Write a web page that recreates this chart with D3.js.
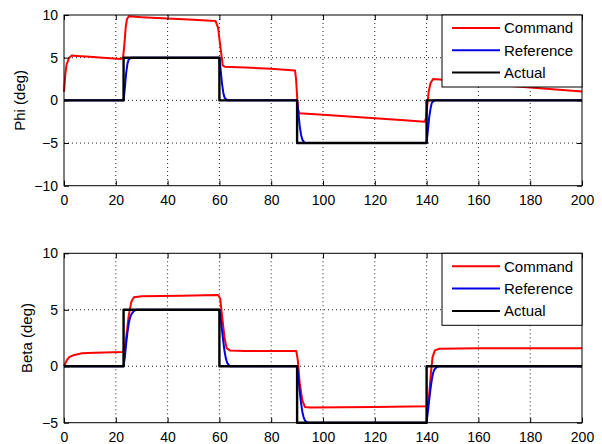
<!DOCTYPE html>
<html>
<head>
<meta charset="utf-8">
<script src="https://cdn.jsdelivr.net/npm/d3@7"></script>
<style>
  body { margin: 0; background: #fff; }
  text { font-family: "Liberation Sans", Arial, sans-serif; fill: #000; }
</style>
</head>
<body>
<script>
// series as [time, deg]
const phiCommand = [[0,1.0],[0.5,3.0],[1,4.2],[2,5.0],[3,5.25],[5,5.2],[10,5.1],[15,5.0],[22,4.85],[22.8,5.0],[23.3,6.5],[23.8,8.5],[24.3,9.5],[25,9.85],[30,9.75],[40,9.6],[50,9.45],[58.5,9.3],[59.5,8.5],[60.5,6.0],[61.3,4.1],[62,3.95],[70,3.85],[80,3.7],[89.2,3.5],[89.6,2.5],[90,0.5],[90.3,-1.0],[90.8,-1.5],[100,-1.7],[110,-1.9],[120,-2.1],[130,-2.3],[139.3,-2.5],[139.8,-2.0],[140.3,-0.5],[140.8,1.0],[141.5,2.0],[142.5,2.5],[145,2.45],[160,2.0],[180,1.5],[200,1.05]];
const phiReference = [[0,0],[23,0],[23.5,1.5],[24,3.2],[24.5,4.3],[25,4.8],[26,5.0],[60,5.0],[60.5,3.5],[61,2.0],[61.5,0.9],[62,0.3],[63,0],[90,0],[90.5,-1.5],[91,-3.0],[91.5,-4.0],[92,-4.6],[93,-5],[140,-5],[140.5,-3.5],[141,-2.0],[141.5,-1.0],[142,-0.3],[143,0],[200,0]];
const phiActual = [[0,0],[23,0],[23,5],[60,5],[60,0],[90,0],[90,-5],[140,-5],[140,0],[200,0]];

const betaCommand = [[0,0],[1,0.5],[2,0.8],[4,1.0],[7,1.15],[12,1.2],[22.5,1.25],[23.3,1.4],[24,2.5],[25,4.5],[26,5.7],[27,6.1],[30,6.2],[45,6.25],[59.5,6.3],[60.3,6.0],[61,4.5],[62,2.5],[62.8,1.6],[64,1.4],[70,1.35],[89.7,1.35],[90.3,0.5],[91,-1.5],[92,-3.0],[93,-3.6],[95,-3.65],[120,-3.6],[140.5,-3.55],[141,-2.5],[141.7,-0.5],[142.3,0.8],[143.2,1.4],[145,1.55],[160,1.6],[200,1.6]];
const betaReference = [[0,0],[23,0],[23.5,0.8],[24,2.0],[24.5,3.0],[25,3.8],[25.5,4.3],[26,4.6],[27,4.9],[28,5.0],[60,5],[60.5,4.2],[61,3.2],[61.5,2.2],[62,1.3],[62.5,0.7],[63,0.3],[64,0],[90,0],[90.5,-1.0],[91,-2.2],[91.5,-3.2],[92,-4.0],[92.5,-4.5],[93,-4.8],[94,-5],[140,-5],[140.5,-4],[141,-3],[141.5,-2],[142,-1.2],[142.5,-0.6],[143,-0.3],[144,-0.05],[145,0],[200,0]];
const betaActual = [[0,0],[23,0],[23,5],[60,5],[60,0],[90,0],[90,-5],[140,-5],[140,0],[200,0]];

const seriesNames = ['Command', 'Reference', 'Actual'];
const seriesColors = ['#ff0000', '#0000e6', '#000000'];
const xTicks = [0, 20, 40, 60, 80, 100, 120, 140, 160, 180, 200];
const phiTicks = [-10, -5, 0, 5, 10];
const betaTicks = [-5, 0, 5, 10];

const svg = d3.select('body').append('svg')
  .attr('width', 602)
  .attr('height', 444);

function drawPanel(cfg) {
  const x = d3.scaleLinear().domain([0, 200]).range([64, 582]);
  const y = d3.scaleLinear().domain(cfg.yDomain).range([cfg.bottom, cfg.top]);
  const g = svg.append('g');

  // dotted grid
  g.selectAll('.gx').data(xTicks.slice(1, -1)).enter().append('line')
    .attr('x1', d => x(d)).attr('x2', d => x(d))
    .attr('y1', cfg.top).attr('y2', cfg.bottom)
    .attr('stroke', '#222').attr('stroke-width', 1).attr('stroke-dasharray', '1,3');
  g.selectAll('.gy').data(cfg.ticks.slice(1, -1)).enter().append('line')
    .attr('x1', 64).attr('x2', 582)
    .attr('y1', d => y(d)).attr('y2', d => y(d))
    .attr('stroke', '#222').attr('stroke-width', 1).attr('stroke-dasharray', '1,3');

  const line = d3.line().x(d => x(d[0])).y(d => y(d[1]));
  cfg.series.forEach((s, i) => {
    g.append('path').datum(s)
      .attr('d', line)
      .attr('fill', 'none')
      .attr('stroke', seriesColors[i])
      .attr('stroke-width', i === 2 ? 2.4 : 2)
      .attr('stroke-linejoin', 'round');
  });

  // axes (ticks inward like matlab)
  const bottomAx = g.append('g').attr('transform', `translate(0,${cfg.bottom})`)
    .call(d3.axisBottom(x).tickValues(xTicks).tickSizeInner(-5).tickSizeOuter(0).tickPadding(9));
  g.append('g').attr('transform', `translate(0,${cfg.top})`)
    .call(d3.axisTop(x).tickValues(xTicks).tickSizeInner(-5).tickSizeOuter(0).tickFormat(''));
  const leftAx = g.append('g').attr('transform', 'translate(64,0)')
    .call(d3.axisLeft(y).tickValues(cfg.ticks).tickSizeInner(-5).tickSizeOuter(0).tickPadding(6));
  g.append('g').attr('transform', 'translate(582,0)')
    .call(d3.axisRight(y).tickValues(cfg.ticks).tickSizeInner(-5).tickSizeOuter(0).tickFormat(''));
  g.selectAll('.domain').remove();
  g.selectAll('.tick line').attr('stroke', '#000');
  [bottomAx, leftAx].forEach(a => a.selectAll('text')
    .style('font-family', '"Liberation Sans", Arial, sans-serif')
    .style('font-size', '14px'));

  g.append('rect')
    .attr('x', 64).attr('y', cfg.top)
    .attr('width', 518).attr('height', cfg.bottom - cfg.top)
    .attr('fill', 'none').attr('stroke', '#000').attr('stroke-width', 1);

  g.append('text')
    .attr('transform', `translate(${cfg.labelX},${(cfg.top + cfg.bottom) / 2}) rotate(-90)`)
    .attr('text-anchor', 'middle')
    .style('font-size', '15px')
    .text(cfg.label);

  // legend
  const lg = g.append('g').attr('transform', `translate(442,${cfg.top})`);
  lg.append('rect').attr('width', 140).attr('height', 72)
    .attr('fill', '#fff').attr('stroke', '#000').attr('stroke-width', 1);
  seriesNames.forEach((n, i) => {
    const yy = 13 + i * 22.3;
    lg.append('line').attr('x1', 10).attr('x2', 58).attr('y1', yy).attr('y2', yy)
      .attr('stroke', seriesColors[i]).attr('stroke-width', 2);
    lg.append('text').attr('x', 62).attr('y', yy).attr('dy', '0.36em')
      .style('font-size', '15px').text(n);
  });
}

drawPanel({ top: 15, bottom: 185.7, yDomain: [-10, 10], ticks: phiTicks,
  series: [phiCommand, phiReference, phiActual], label: 'Phi (deg)', labelX: 25 });
drawPanel({ top: 253.3, bottom: 422.7, yDomain: [-5, 10], ticks: betaTicks,
  series: [betaCommand, betaReference, betaActual], label: 'Beta (deg)', labelX: 32 });
</script>
</body>
</html>
